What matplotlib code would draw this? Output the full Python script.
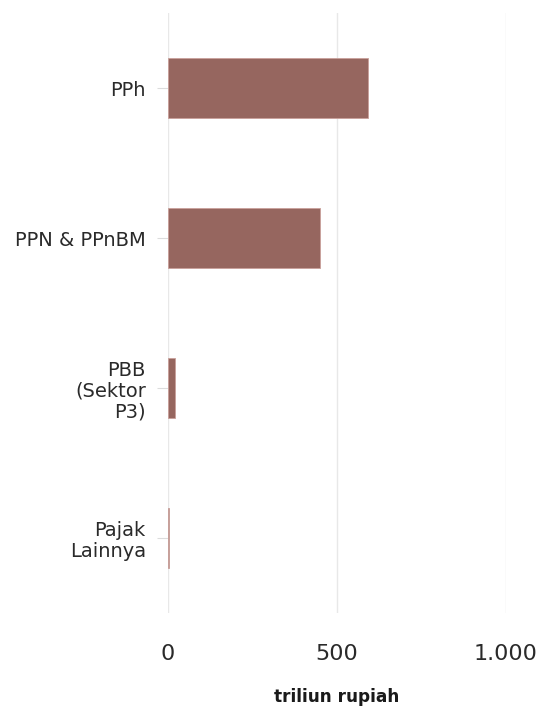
import matplotlib
matplotlib.use("Agg")
import matplotlib.pyplot as plt
from matplotlib.ticker import FuncFormatter

categories = ["PPh", "PPN & PPnBM", "PBB\n(Sektor\nP3)", "Pajak\nLainnya"]
values = [593, 450, 21, 4]
xticks = [0, 500, 1000]

fig = plt.figure(figsize=(5.38, 7.08), dpi=100)
ax = fig.add_axes([168 / 538, 1 - 613 / 708, 338 / 538, 600 / 708])

ypos = list(range(len(categories)))
ax.barh(ypos, values, height=0.405, color="#96665f", edgecolor="#c9a09a", linewidth=0.6, zorder=3)
ax.set_ylim(len(categories) - 0.5, -0.5)
ax.set_xlim(0, 1000)
ax.set_xticks(xticks)
ax.xaxis.set_major_formatter(FuncFormatter(lambda v, p: f"{int(v):,}".replace(",", ".")))
ax.set_yticks(ypos)
ax.set_yticklabels(categories, fontsize=14, color="#2a2a2a", linespacing=1.12)
ax.tick_params(axis="y", length=8, width=0.8, color="#dcdcdc", pad=8)
ax.tick_params(axis="x", length=0, labelsize=16, colors="#2a2a2a", pad=22.5)
ax.grid(axis="x", color="#e8e8e8", linewidth=1.0, zorder=0)
ax.grid(axis="y", visible=False)
for s in ax.spines.values():
    s.set_visible(False)
ax.set_xlabel("triliun rupiah", fontsize=12.2, fontweight="bold", color="#1a1a1a", labelpad=17)

fig.savefig("out.png", dpi=100)
